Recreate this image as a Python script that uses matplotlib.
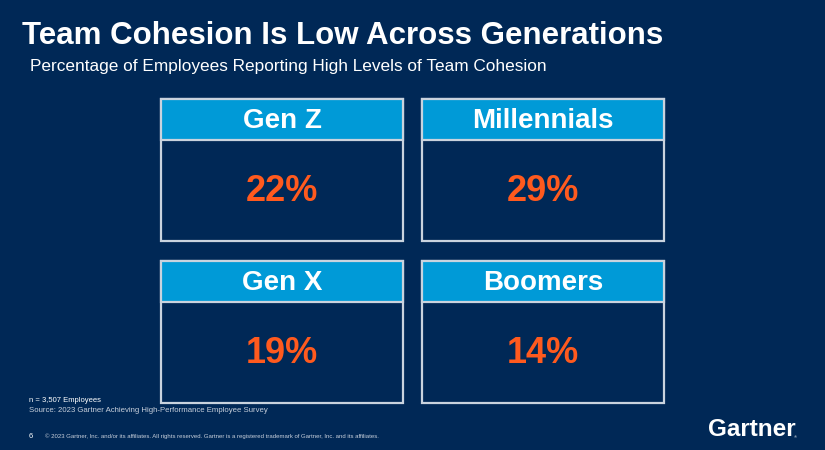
import matplotlib
matplotlib.use("Agg")
import matplotlib.pyplot as plt
from matplotlib.patches import Rectangle

generations = ["Gen Z", "Millennials", "Gen X", "Boomers"]
values = [22, 29, 19, 14]
grid_pos = [(0, 0), (0, 1), (1, 0), (1, 1)]  # (row, col)

BG = "#002856"
HEAD = "#009AD7"
ORANGE = "#FF5A1E"
EDGE = "#C9D3DE"

plt.rcParams['font.family'] = ['Liberation Sans', 'DejaVu Sans']

fig = plt.figure(figsize=(8.25, 4.5), dpi=100)
fig.patch.set_facecolor(BG)
ax = fig.add_axes([0, 0, 1, 1])
ax.set_xlim(0, 825)
ax.set_ylim(450, 0)
ax.axis("off")
ax.set_facecolor(BG)

x0, y0 = 161, 99
bw, bh = 242, 142
gx, gy = 261, 162
hh = 41

for name, val, (r, c) in zip(generations, values, grid_pos):
    bx = x0 + c * gx
    by = y0 + r * gy
    ax.add_patch(Rectangle((bx, by), bw, bh, facecolor=BG, edgecolor=EDGE, lw=1.6))
    ax.add_patch(Rectangle((bx, by), bw, hh, facecolor=HEAD, edgecolor=EDGE, lw=1.6))
    ax.text(bx + bw / 2, by + hh / 2 + 1, name, color="white", fontsize=20,
            fontweight="bold", ha="center", va="center")
    ax.text(bx + bw / 2, by + hh + (bh - hh) / 2 + 1, f"{val}%", color=ORANGE,
            fontsize=26, fontweight="bold", ha="center", va="center")

ax.text(22, 36, "Team Cohesion Is Low Across Generations", color="white",
        fontsize=22.5, fontweight="bold", ha="left", va="center")
ax.text(30, 67, "Percentage of Employees Reporting High Levels of Team Cohesion",
        color="white", fontsize=12.4, ha="left", va="center")

ax.text(29, 401, "n = 3,507 Employees", color="white", fontsize=5.5, ha="left", va="center")
ax.text(29, 410, "Source: 2023 Gartner Achieving High-Performance Employee Survey",
        color="#C8D0DC", fontsize=5.6, ha="left", va="center")
ax.text(29, 436, "6", color="white", fontsize=5.5, ha="left", va="center")
ax.text(45, 436, "© 2023 Gartner, Inc. and/or its affiliates. All rights reserved. Gartner is a registered trademark of Gartner, Inc. and its affiliates.",
        color="#C8D0DC", fontsize=4.3, ha="left", va="center")
ax.text(708, 430, "Gartner", color="white", fontsize=17.5, fontweight="bold",
        ha="left", va="center")
ax.text(794, 437, "®", color="white", fontsize=3, ha="left", va="center")

fig.savefig("out.png", dpi=100, facecolor=BG)
